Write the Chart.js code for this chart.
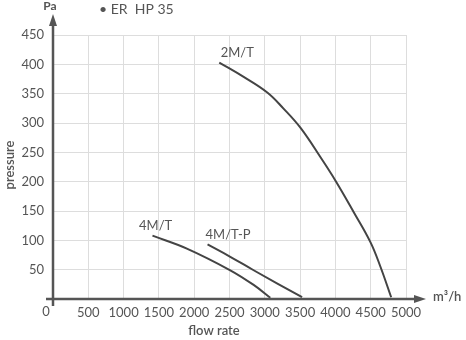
<!DOCTYPE html>
<html>
<head>
<meta charset="utf-8">
<script src="https://cdn.jsdelivr.net/npm/chart.js@4"></script>
<style>
  html, body { margin: 0; padding: 0; background: #fff; }
  #wrap { width: 466px; height: 340px; }
</style>
</head>
<body>
<div id="wrap"><canvas id="c" width="466" height="340"></canvas></div>
<script>
// curves (flow m3/h, pressure Pa)
const flow2MT = [2355, 2695, 3035, 3262, 3504, 3787, 4010, 4260, 4496, 4638, 4790];
const pres2MT = [403, 379, 352, 325, 292, 242, 200, 148, 97, 55, 3];
const flow4MT = [1409, 1896, 2511, 2842, 3078];
const pres4MT = [108, 86, 49, 24, 2];
const flow4MTP = [2189, 2511, 2842, 3528];
const pres4MTP = [93, 72, 49, 3];
const xTicks = [0, 500, 1000, 1500, 2000, 2500, 3000, 3500, 4000, 4500, 5000];
const yTicks = [0, 50, 100, 150, 200, 250, 300, 350, 400, 450];

const FONT = 'Lato, "Open Sans", sans-serif';
const GREY = '#555';

function pts(xs, ys) {
  return xs.map((x, i) => ({ x: x, y: ys[i] }));
}

const curveLabels = [
  { text: '2M/T', x: 2610, y: 419 },
  { text: '4M/T', x: 1454, y: 124 },
  { text: '4M/T-P', x: 2480, y: 109 }
];

const decor = {
  id: 'decor',
  afterDraw(chart) {
    const ctx = chart.ctx;
    const xs = chart.scales.x, ys = chart.scales.y;
    const x0 = xs.getPixelForValue(0), y0 = ys.getPixelForValue(0);
    ctx.save();
    ctx.strokeStyle = GREY;
    ctx.fillStyle = GREY;
    ctx.lineWidth = 2.5;
    // x axis with arrow
    ctx.beginPath();
    ctx.moveTo(x0 - 7, y0);
    ctx.lineTo(418, y0);
    ctx.stroke();
    ctx.beginPath();
    ctx.moveTo(426, y0);
    ctx.lineTo(414, y0 - 4);
    ctx.lineTo(414, y0 + 4);
    ctx.closePath();
    ctx.fill();
    // y axis with arrow
    ctx.beginPath();
    ctx.moveTo(x0, y0 + 7);
    ctx.lineTo(x0, 22);
    ctx.stroke();
    ctx.beginPath();
    ctx.moveTo(x0, 14);
    ctx.lineTo(x0 - 4, 26);
    ctx.lineTo(x0 + 4, 26);
    ctx.closePath();
    ctx.fill();

    ctx.font = '13px ' + FONT;
    ctx.textBaseline = 'middle';
    ctx.textAlign = 'center';
    ctx.fillText('0', x0 - 7, 312);
    ctx.font = 'bold 12px ' + FONT;
    ctx.fillText('Pa', x0 - 3, 6);
    ctx.font = '600 13px ' + FONT;
    ctx.fillText('flow rate', 214, 331);
    ctx.save();
    ctx.translate(10, 165);
    ctx.rotate(-Math.PI / 2);
    ctx.fillText('pressure', 0, 0);
    ctx.restore();
    ctx.textAlign = 'left';
    ctx.fillText('m\u00b3/h', 433, 297);

    ctx.font = '14px ' + FONT;
    ctx.textAlign = 'left';
    ctx.fillText('\u2022 ER  HP 35', 99, 9);

    ctx.font = '13px ' + FONT;
    ctx.textAlign = 'center';
    curveLabels.forEach(l => {
      ctx.fillText(l.text, xs.getPixelForValue(l.x), ys.getPixelForValue(l.y));
    });
    ctx.restore();
  }
};

const lineStyle = {
  showLine: true,
  borderColor: '#444',
  borderWidth: 2,
  pointRadius: 0,
  fill: false,
  tension: 0.4
};

new Chart(document.getElementById('c'), {
  type: 'scatter',
  data: {
    datasets: [
      Object.assign({ label: '2M/T', data: pts(flow2MT, pres2MT) }, lineStyle),
      Object.assign({ label: '4M/T', data: pts(flow4MT, pres4MT) }, lineStyle),
      Object.assign({ label: '4M/T-P', data: pts(flow4MTP, pres4MTP) }, lineStyle)
    ]
  },
  options: {
    responsive: false,
    animation: false,
    layout: { padding: { left: 13, right: 60, top: 35, bottom: 21 } },
    plugins: { legend: { display: false }, tooltip: { enabled: false } },
    scales: {
      x: {
        type: 'linear',
        min: 0,
        max: 5000,
        afterBuildTicks: s => { s.ticks = xTicks.map(v => ({ value: v })); },
        afterFit: s => { s.height = 20; },
        grid: { color: '#ddd', lineWidth: 1, drawTicks: false },
        border: { display: false },
        ticks: {
          color: GREY,
          font: { family: FONT, size: 13 },
          padding: 6,
          maxRotation: 0,
          autoSkip: false,
          callback: v => (v === 0 ? '' : v)
        }
      },
      y: {
        min: 0,
        max: 450,
        afterBuildTicks: s => { s.ticks = yTicks.map(v => ({ value: v })); },
        afterFit: s => { s.width = 40; },
        grid: { color: '#ddd', lineWidth: 1, drawTicks: false },
        border: { display: false },
        ticks: {
          color: GREY,
          font: { family: FONT, size: 13 },
          padding: 9,
          autoSkip: false,
          callback: v => (v === 0 ? '' : v)
        }
      }
    }
  },
  plugins: [decor]
});
</script>
</body>
</html>
